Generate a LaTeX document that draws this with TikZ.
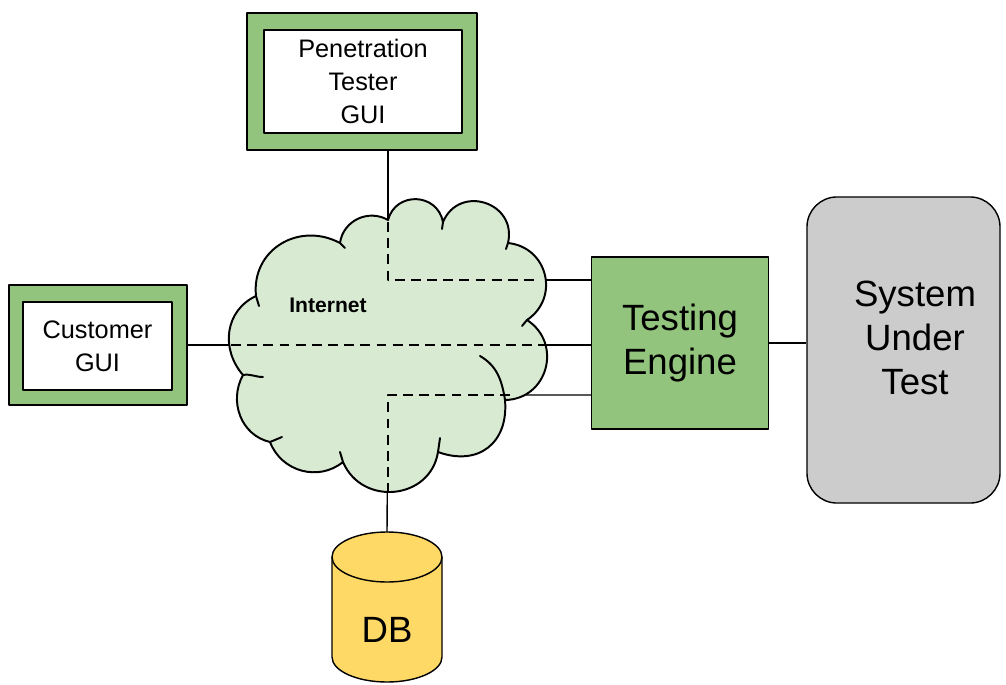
\documentclass[tikz,border=0pt]{standalone}
\usepackage{fontspec}
\setmainfont{Liberation Sans}
\usepackage{tikz}
\definecolor{guigreen}{HTML}{93C47D}
\definecolor{netfill}{HTML}{D9EAD3}
\definecolor{dbfill}{HTML}{FFD966}
\definecolor{sutfill}{HTML}{CCCCCC}
\tikzset{
  frame/.style={draw=black,line width=1pt,fill=guigreen,inner sep=0pt},
  face/.style={draw=black,line width=1pt,fill=white,inner sep=0pt,align=center,
    font=\fontsize{18}{23.5}\selectfont},
  engine/.style={draw=black,line width=1pt,fill=guigreen,inner sep=0pt,align=center,
    minimum width=4.425cm,minimum height=4.3cm,font=\fontsize{26}{31}\selectfont},
  sutbox/.style={draw=black,line width=1pt,fill=sutfill,rounded corners=0.75cm,
    minimum width=4.825cm,minimum height=7.65cm},
  bigtext/.style={align=center,font=\fontsize{26}{31}\selectfont},
  dbbody/.style={draw=black,line width=1pt,fill=dbfill},
  link/.style={draw=black,line width=1pt},
  inlink/.style={draw=black,line width=1pt,dash pattern=on 7pt off 4.5pt},
  cloudline/.style={draw=black,line width=1.4pt,line cap=round}
}

\begin{document}
\begin{tikzpicture}[line join=round,x=0.025cm,y=0.025cm]
  \useasboundingbox (0,0) rectangle (1006,-684);

  % boxes
  \node[frame,minimum width=5.75cm,minimum height=3.425cm] (penframe) at (362,-81.5) {};
  \node[face,minimum width=4.95cm,minimum height=2.575cm] (pen) at (363,-81.5) {Penetration\\Tester\\GUI};
  \node[frame,minimum width=4.45cm,minimum height=3cm] (custframe) at (98,-345) {};
  \node[face,minimum width=3.725cm,minimum height=2.2cm] (cust) at (97.5,-346) {Customer\\GUI};
  \node[engine] (te) at (680,-343) {Testing\\Engine};
  \node[sutbox] (sut) at (903.5,-350) {};
  \node[bigtext] (sutlabel) at (915,-338) {System\\Under\\Test};

  % database
  \draw[dbbody] (332,-557) -- (332,-657)
    arc[start angle=180,end angle=360,x radius=1.375cm,y radius=0.625cm]
    -- (442,-557) arc[start angle=0,end angle=180,x radius=1.375cm,y radius=0.625cm] -- cycle;
  \draw[line width=1pt] (332,-557) arc[start angle=180,end angle=360,x radius=1.375cm,y radius=0.625cm];
  \coordinate (dbtop) at (387,-532);
  \node[bigtext] (db) at (387,-630) {DB};

  \coordinate (jt) at (388,-280);
  \coordinate (jb) at (388,-395);

  % solid links
  \draw[link] (penframe.south -| jt) -- (jt) -- (te.west |- jt);
  \draw[link] (custframe.east) -- (custframe.east -| te.west);
  \draw[link] (dbtop) -- (jb) -- (te.west |- jb);
  \draw[link] (te.east) -- (te.east -| sut.west);

  % internet cloud
  \draw[cloudline,fill=netfill] (388,-220)
    to[out=75,in=101,looseness=1.39] (443,-222)
    to[out=67,in=77,looseness=1.56] (508,-243)
    to[out=-6,in=34,looseness=1.29] (527,-320)
    to[out=-33,in=1,looseness=1.32] (505,-400)
    to[out=-85,in=-20,looseness=1.3] (438,-452)
    to[out=-99,in=-67,looseness=1.3] (343,-462)
    to[out=219,in=291,looseness=1.07] (270,-442)
    to[out=167,in=241,looseness=1.06] (243,-375)
    to[out=131,in=205,looseness=1.1] (256,-296)
    to[out=96,in=152,looseness=1.2] (340,-243)
    to[out=82,in=150,looseness=1.09] cycle;
  \draw[cloudline] (443,-222) -- (442,-229);
  \draw[cloudline] (508,-243) -- (506,-249);
  \draw[cloudline] (527,-320) -- (522,-326);
  \draw[cloudline] (505,-400) to[out=99,in=-30] (480,-356);
  \draw[cloudline] (438,-452) -- (440,-438);
  \draw[cloudline] (343,-462) -- (340,-452);
  \draw[cloudline] (270,-442) -- (282,-437);
  \draw[cloudline] (243,-375) to[out=10,in=180] (263,-377);
  \draw[cloudline] (256,-296) -- (259,-306);
  \draw[cloudline] (340,-243) -- (345,-248);
  \node[font=\fontsize{15}{18}\selectfont\bfseries] (net) at (328,-305) {Internet};

  % paths through the internet
  \draw[inlink] (388,-222) -- (jt) -- (537,-280);
  \draw[inlink] (231,-345) -- (546,-345);
  \draw[inlink] (510,-395) -- (jb) -- (388,-493);
\end{tikzpicture}
\end{document}
